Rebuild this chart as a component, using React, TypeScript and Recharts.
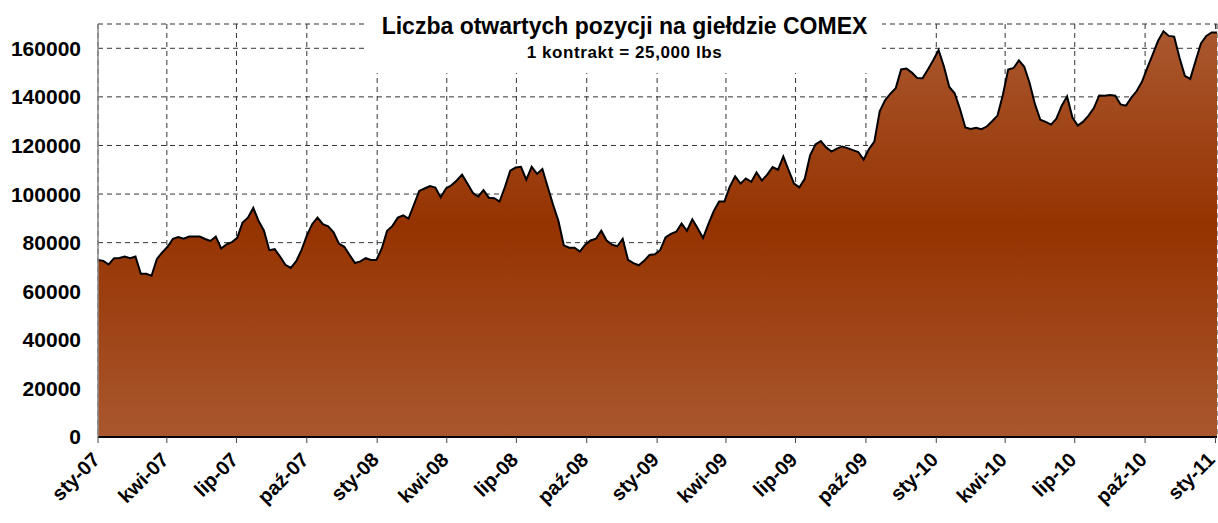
import React from 'react';
import { AreaChart, Area, XAxis, YAxis, CartesianGrid } from 'recharts';

// weekly open interest on COMEX copper, first report 2 Jan 2007
const openInterest = [
  // 2007
  72900, 72500, 71000, 73600, 73700, 74300, 73600, 74300, 67200, 67200, 66400, 73300, 76000,
  78300, 81600, 82300, 81600, 82500, 82500, 82500, 81500, 80700, 82500, 77600, 79300, 80200,
  82000, 88300, 90300, 94300, 88900, 84900, 76900, 77300, 74300, 70900, 69600, 72300, 76900,
  82900, 87600, 90300, 87600, 86700, 84300, 79600, 78300, 74900, 71600, 72300, 73600, 72900,
  // 2008
  72900, 77600, 84900, 86900, 90300, 91200, 89900, 95600, 101300, 102300, 103300, 102700, 98700,
  102300, 103600, 105600, 108000, 104300, 100500, 98900, 101600, 98500, 98300, 96900, 102900, 109600,
  110900, 111200, 105900, 111200, 108300, 110300, 102900, 95600, 88900, 78900, 77900, 77900, 76300,
  79200, 80900, 81600, 84900, 80900, 79200, 78500, 81600, 72900, 71600, 70700, 72500, 74900,
  // 2009
  75200, 76900, 82200, 83600, 84500, 87900, 84900, 89600, 85900, 81900, 87600, 92900, 96900,
  96900, 103000, 107300, 104300, 106400, 105000, 108900, 105600, 108000, 111100, 110000, 115500, 109800,
  104300, 102800, 106300, 115900, 120400, 121800, 119200, 117500, 118700, 119600, 118900, 118100, 117300,
  114200, 118500, 121600, 134100, 138600, 141300, 143600, 151300, 151700, 150000, 147800, 147700, 151300,
  // 2010
  155100, 159300, 152500, 144100, 141500, 135000, 127400, 126800, 127300, 126700, 127800, 130000, 132300,
  140800, 151300, 151900, 155000, 152400, 145700, 137000, 130600, 129700, 128600, 131000, 136400, 140200,
  131500, 128200, 129800, 132300, 135400, 140600, 140500, 140800, 140500, 136900, 136400, 139700, 142400,
  146300, 152000, 157500, 163100, 167000, 165100, 164800, 156100, 148700, 147400, 154800, 162000, 165100,
  // 2011
  166500, 166500,
];

const quarterNames = ['sty', 'kwi', 'lip', 'paź'];
const yTicks = [0, 20000, 40000, 60000, 80000, 100000, 120000, 140000, 160000];

const START = Date.UTC(2007, 0, 2);
const DAY = 86400000;

const quarterTicks = quarterNames
  .concat(quarterNames, quarterNames, quarterNames, ['sty'])
  .map((_, i) => (Date.UTC(2007 + Math.floor(i / 4), (i % 4) * 3, 2) - START) / DAY);

const quarterLabel = (day: number) => {
  const i = quarterTicks.indexOf(day);
  return `${quarterNames[i % 4]}-${String(7 + Math.floor(i / 4)).padStart(2, '0')}`;
};

const data = openInterest.map((v, i) => ({ day: i * 7, v }));

const FONT = '"Liberation Sans", Arial, sans-serif';

const XTick = (props: any) => {
  const { x, y, payload } = props;
  // keep the last label inside the picture
  const ax = Math.min(x + 3, 1216);
  const ay = y + 16;
  return (
    <text
      x={ax}
      y={ay}
      textAnchor="end"
      transform={`rotate(-45 ${ax} ${ay})`}
      fontSize={20}
      fontWeight={700}
      fill="#000"
      fontFamily={FONT}
    >
      {quarterLabel(payload.value)}
    </text>
  );
};

export default function App() {
  return (
    <div
      style={{
        position: 'absolute',
        left: 0,
        top: 0,
        width: 1218,
        height: 523,
        overflow: 'hidden',
        background: '#fff',
        fontFamily: FONT,
      }}
    >
      <AreaChart width={1218} height={523} data={data} margin={{ top: 24, right: 1, bottom: 6, left: 8 }}>
        <defs>
          <linearGradient id="oiFill" x1="0" y1="0" x2="0" y2="1">
            <stop offset="0%" stopColor="#AA572F" />
            <stop offset="48%" stopColor="#953300" />
            <stop offset="100%" stopColor="#AA572F" />
          </linearGradient>
        </defs>
        <CartesianGrid stroke="#333" strokeDasharray="5 4" strokeWidth={1} />
        <XAxis
          dataKey="day"
          type="number"
          domain={['dataMin', 'dataMax']}
          ticks={quarterTicks}
          interval={0}
          height={80}
          tick={<XTick />}
          tickSize={6}
          axisLine={{ stroke: '#000', strokeWidth: 2 }}
          tickLine={{ stroke: '#444' }}
        />
        <YAxis
          type="number"
          domain={[0, 170000]}
          ticks={yTicks}
          interval={0}
          width={90}
          tickSize={0}
          tickMargin={17}
          axisLine={{ stroke: '#888', strokeWidth: 1.5 }}
          tickLine={false}
          tick={{ fill: '#000', fontSize: 21, fontWeight: 700, fontFamily: FONT }}
        />
        <Area
          type="linear"
          dataKey="v"
          stroke="#000"
          strokeWidth={2}
          fill="url(#oiFill)"
          fillOpacity={1}
          isAnimationActive={false}
          dot={false}
          activeDot={false}
        />
      </AreaChart>
      <div
        style={{
          position: 'absolute',
          left: 367,
          top: 0,
          width: 515,
          height: 73,
          background: '#fff',
          textAlign: 'center',
          fontWeight: 700,
          color: '#000',
        }}
      >
        <div style={{ fontSize: 23, lineHeight: '26px', paddingTop: 13 }}>
          Liczba otwartych pozycji na giełdzie COMEX
        </div>
        <div style={{ fontSize: 17, lineHeight: '20px', marginTop: 4, letterSpacing: 0.6 }}>
          1 kontrakt = 25,000 lbs
        </div>
      </div>
    </div>
  );
}
